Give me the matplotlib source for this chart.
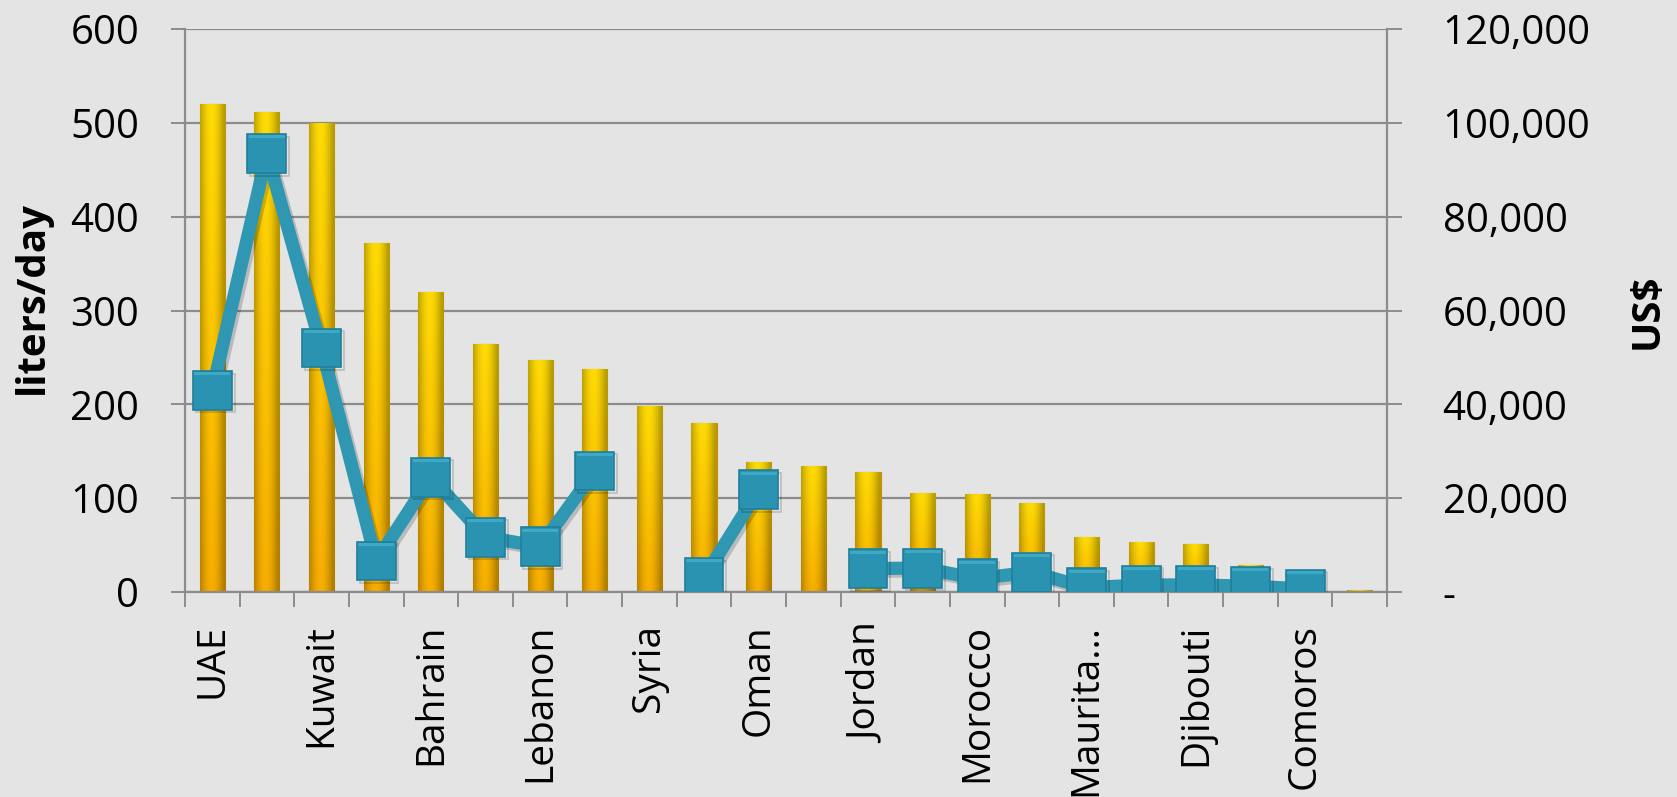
import matplotlib.pyplot as plt
import numpy as np
from matplotlib import patheffects as pe
from matplotlib.ticker import FuncFormatter

plt.rcParams['font.family'] = ['Open Sans', 'DejaVu Sans']

# every other country is labelled on the axis
countries = ['UAE', '', 'Kuwait', '', 'Bahrain', '', 'Lebanon', '', 'Syria', '',
             'Oman', '', 'Jordan', '', 'Morocco', '', 'Maurita...', '', 'Djibouti', '',
             'Comoros', '']
water_use = [520, 512, 500, 372, 320, 264, 247, 238, 198, 180,
             139, 134, 128, 105, 104, 95, 59, 53, 51, 29,
             20, 2]
gdp_per_capita = [43000, 93500, 52000, 6600, 24500, 11700, 9700, 25800, np.nan, 3100,
                  21800, np.nan, 5000, 5100, 2850, 4250, 900, 1500, 1500, 1250,
                  650, np.nan]

left_ticks = [0, 100, 200, 300, 400, 500, 600]
right_ticks = [0, 20000, 40000, 60000, 80000, 100000, 120000]

bg = '#E4E4E4'
grid_col = '#8C8C8C'
teal = '#3097B2'

fig = plt.figure(figsize=(16.77, 7.97), dpi=100, facecolor=bg)
ax = fig.add_axes([0.1103, 0.2572, 0.7168, 0.7064])
ax.set_facecolor(bg)

n = len(water_use)
x = np.arange(n) + 0.5

bars = ax.bar(x, water_use, width=0.46, color='#F6B800', edgecolor='#C98A08',
              linewidth=0.8, zorder=2)

# cylinder-like shading on each bar
h = np.linspace(0, 1, 64)
shade = 0.72 + 0.28 * np.clip(np.cos((h - 0.45) * np.pi * 1.05), 0, 1)
v = np.linspace(0, 1, 64)[:, None]
bottom_c = np.array([0.97, 0.68, 0.0])
top_c = np.array([1.0, 0.86, 0.02])
base = bottom_c + (top_c - bottom_c) * v[..., None]
grad = np.clip(base * shade[None, :, None], 0, 1)
for b in bars:
    x0, w, hgt = b.get_x(), b.get_width(), b.get_height()
    im = ax.imshow(grad, extent=[x0, x0 + w, 0, hgt], origin='lower',
                   aspect='auto', zorder=2.1, interpolation='bilinear')
    im.set_clip_path(b)

ax.set_xlim(0, n)
ax.set_ylim(0, 600)
ax.set_yticks(left_ticks)
ax.yaxis.grid(True, color=grid_col, linewidth=1.6, zorder=0)
ax.set_axisbelow(True)

ax.set_xticks(np.arange(n + 1))
ax.set_xticklabels([])
ax.set_xticks(x, minor=True)
ax.set_xticklabels(countries, minor=True, rotation=90, fontsize=28)
ax.tick_params(axis='x', which='major', length=11, width=1.4, color=grid_col)
ax.tick_params(axis='x', which='minor', length=0, pad=23)
ax.tick_params(axis='y', length=10, width=1.4, color=grid_col, pad=23, labelsize=29)

for side in ['top', 'right']:
    ax.spines[side].set_visible(False)
for side in ['left', 'bottom']:
    ax.spines[side].set_color(grid_col)
    ax.spines[side].set_linewidth(1.6)

# income per person on the right axis
ax2 = ax.twinx()
ax2.patch.set_visible(False)
ax2.plot(x, gdp_per_capita, color=teal, linewidth=9.5, marker='s', markersize=28,
         markerfacecolor='#2A93B1', markeredgecolor='#1F7F9C', markeredgewidth=1.2,
         zorder=5,
         path_effects=[pe.SimpleLineShadow(offset=(2, -2), alpha=0.18), pe.Normal()])
# soft highlight along the top of each square marker
top_rim = [(-1, 0.82), (1, 0.82), (1, 1), (-1, 1), (-1, 0.82)]
ax2.plot(x, gdp_per_capita, linestyle='none', marker=top_rim, markersize=26,
         markerfacecolor='#4FBCD6', markeredgewidth=0, alpha=0.55, zorder=6)
ax2.set_ylim(0, 120000)
ax2.set_yticks(right_ticks)
ax2.yaxis.set_major_formatter(FuncFormatter(lambda val, pos: '-' if val == 0 else f'{val:,.0f}'))
ax2.tick_params(axis='y', length=11, width=1.4, color=grid_col, pad=29, labelsize=29)
for side in ['top', 'left', 'bottom']:
    ax2.spines[side].set_visible(False)
ax2.spines['right'].set_color(grid_col)
ax2.spines['right'].set_linewidth(1.6)

fig.text(32 / 1677, 1 - 297 / 797, 'liters/day', rotation=90, ha='center', va='center',
         fontsize=29, fontweight='bold')
fig.text(1647 / 1677, 1 - 311 / 797, 'US$', rotation=90, ha='center', va='center',
         fontsize=29, fontweight='bold')

fig.savefig('out.png', dpi=100, facecolor=fig.get_facecolor())
